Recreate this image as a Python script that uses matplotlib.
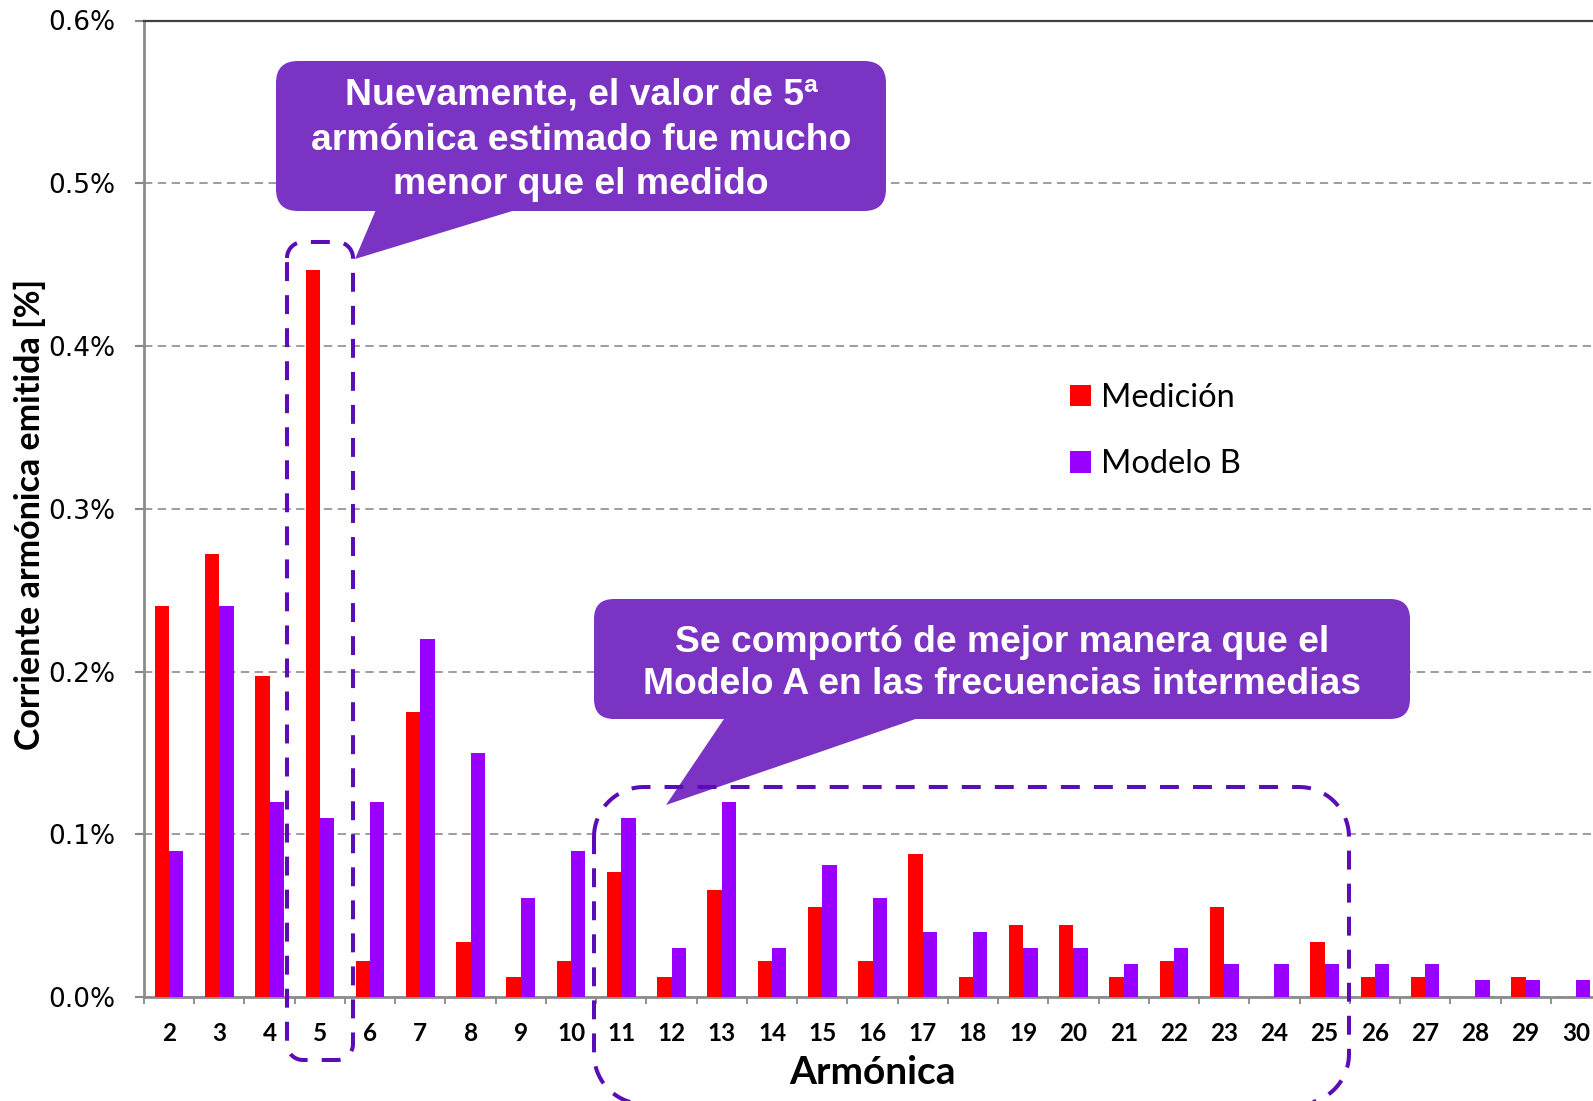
import matplotlib
matplotlib.use("Agg")
import matplotlib.pyplot as plt
from matplotlib.patches import FancyBboxPatch, Polygon
from matplotlib.lines import Line2D
from matplotlib.ticker import FixedLocator, FuncFormatter
import numpy as np

# ---------------- data ----------------
armonicas = [str(h) for h in range(2, 31)]
medicion = [0.240, 0.272, 0.197, 0.447, 0.022, 0.175, 0.034, 0.012, 0.022, 0.077,
            0.012, 0.066, 0.022, 0.055, 0.022, 0.088, 0.012, 0.044, 0.044, 0.012,
            0.022, 0.055, 0.0, 0.034, 0.012, 0.012, 0.0, 0.012, 0.0]
modelo_b = [0.090, 0.240, 0.120, 0.110, 0.120, 0.220, 0.150, 0.061, 0.090, 0.110,
            0.030, 0.120, 0.030, 0.081, 0.061, 0.040, 0.040, 0.030, 0.030, 0.020,
            0.030, 0.020, 0.020, 0.020, 0.020, 0.020, 0.0105, 0.0105, 0.0105]
y_ticks = [0.0, 0.1, 0.2, 0.3, 0.4, 0.5, 0.6]
series_labels = ["Medición", "Modelo B"]
callout_1 = "Nuevamente, el valor de 5ª\narmónica estimado fue mucho\nmenor que el medido"
callout_2 = "Se comportó de mejor manera que el\nModelo A en las frecuencias intermedias"

# ---------------- figure ----------------
W, H = 1593, 1101
fig = plt.figure(figsize=(W / 100, H / 100), dpi=100)
ax = fig.add_axes([144 / W, (H - 997) / H, 1457 / W, (997 - 20.5) / H])

x = np.arange(len(armonicas))
bw = 0.285
ax.bar(x - bw / 2, medicion, width=bw, color="#FF0000", label=series_labels[0], zorder=3)
ax.bar(x + bw / 2, modelo_b, width=bw, color="#9900FF", label=series_labels[1], zorder=3)

ax.set_xlim(-0.5, len(armonicas) - 0.5)
ax.set_ylim(0, 0.6)

# y axis
ax.yaxis.set_major_locator(FixedLocator(y_ticks))
ax.yaxis.set_major_formatter(FuncFormatter(lambda v, p: f"{v:.1f}%"))
ax.tick_params(axis="y", which="major", direction="out", length=6.5, width=1.5,
               color="#888888", pad=14, labelsize=19, labelcolor="black")
for lab in ax.get_yticklabels():
    lab.set_fontfamily("DejaVu Sans")
ax.grid(axis="y", color="#8c8c8c", linestyle=(0, (5, 3.3)), linewidth=1.2, zorder=1)

# x axis
ax.set_xticks(x)
ax.set_xticklabels(armonicas, fontfamily="Lato", fontweight="bold", fontsize=17.5)
ax.set_xticks(np.arange(-0.5, len(armonicas)), minor=True)
ax.tick_params(axis="x", which="major", length=0, pad=18)
ax.tick_params(axis="x", which="minor", direction="out", length=5, width=1.3, color="#888888")

for s in ["left", "bottom"]:
    ax.spines[s].set_color("#8c8c8c")
    ax.spines[s].set_linewidth(2)
ax.spines["right"].set_visible(False)
ax.spines["top"].set_color("#404040")
ax.spines["top"].set_linewidth(1.6)

ax.set_xlabel("Armónica", fontfamily="Lato", fontweight="bold", fontsize=28)
ax.xaxis.set_label_coords(0.5, -0.059)
ax.set_ylabel("Corriente armónica emitida [%]", fontfamily="Lato", fontweight="bold", fontsize=24.5)
ax.yaxis.set_label_coords(-0.067, 0.494)

leg = ax.legend(loc="upper left", bbox_to_anchor=(1069.5 / W, 1 - 383 / H),
                bbox_transform=fig.transFigure, frameon=False, prop={"family": "Lato", "size": 23.5},
                handlelength=0.65, handleheight=0.65, handletextpad=0.3,
                labelspacing=1.11, borderpad=0, borderaxespad=0)

# ---------------- overlay annotations (pixel coordinates) ----------------
ov = fig.add_axes([0, 0, 1, 1], zorder=10)
ov.set_xlim(0, W)
ov.set_ylim(H, 0)
ov.axis("off")
ov.patch.set_alpha(0)

box_c = "#7B33C3"
dash_c = "#5A0DB5"


def rounded_outline(x0, y0, x1, y1, r, n=24):
    """Closed outline of a rounded rectangle (pixel space, y downward)."""
    t = np.linspace(0, np.pi / 2, n)
    xs, ys = [], []
    # top-left corner -> top edge
    xs += list(x0 + r - r * np.cos(t)); ys += list(y0 + r - r * np.sin(t))
    # top-right
    xs += list(x1 - r + r * np.sin(t)); ys += list(y0 + r - r * np.cos(t))
    # bottom-right
    xs += list(x1 - r + r * np.cos(t)); ys += list(y1 - r + r * np.sin(t))
    # bottom-left
    xs += list(x0 + r - r * np.sin(t)); ys += list(y1 - r + r * np.cos(t))
    xs.append(xs[0]); ys.append(ys[0])
    return xs, ys


for (x0, y0, x1, y1, r) in [(287, 242, 353, 1060, 16), (594, 787, 1349, 1104, 50)]:
    xs, ys = rounded_outline(x0, y0, x1, y1, r)
    ov.add_line(Line2D(xs, ys, color=dash_c, linewidth=2.9,
                       linestyle=(0, (4.7, 3.5)), dash_capstyle="butt"))

# callout 1
ov.add_patch(FancyBboxPatch((276, 61), 886 - 276, 211 - 61,
                            boxstyle="round,pad=0,rounding_size=22",
                            facecolor=box_c, edgecolor="none"))
ov.add_patch(Polygon([(378, 205), (532, 205), (355, 259)], closed=True,
                     facecolor=box_c, edgecolor="none"))
ov.text(581, 140, callout_1, ha="center", va="center", color="white",
        fontfamily="Liberation Sans", fontweight="bold", fontsize=26.9, linespacing=1.37)

# callout 2
ov.add_patch(FancyBboxPatch((594, 599), 1410 - 594, 719 - 599,
                            boxstyle="round,pad=0,rounding_size=20",
                            facecolor=box_c, edgecolor="none"))
ov.add_patch(Polygon([(728, 713), (933, 713), (666, 805)], closed=True,
                     facecolor=box_c, edgecolor="none"))
ov.text(1002, 663.5, callout_2, ha="center", va="center", color="white",
        fontfamily="Liberation Sans", fontweight="bold", fontsize=26.8, linespacing=1.27)

fig.savefig("out.png", dpi=100)
